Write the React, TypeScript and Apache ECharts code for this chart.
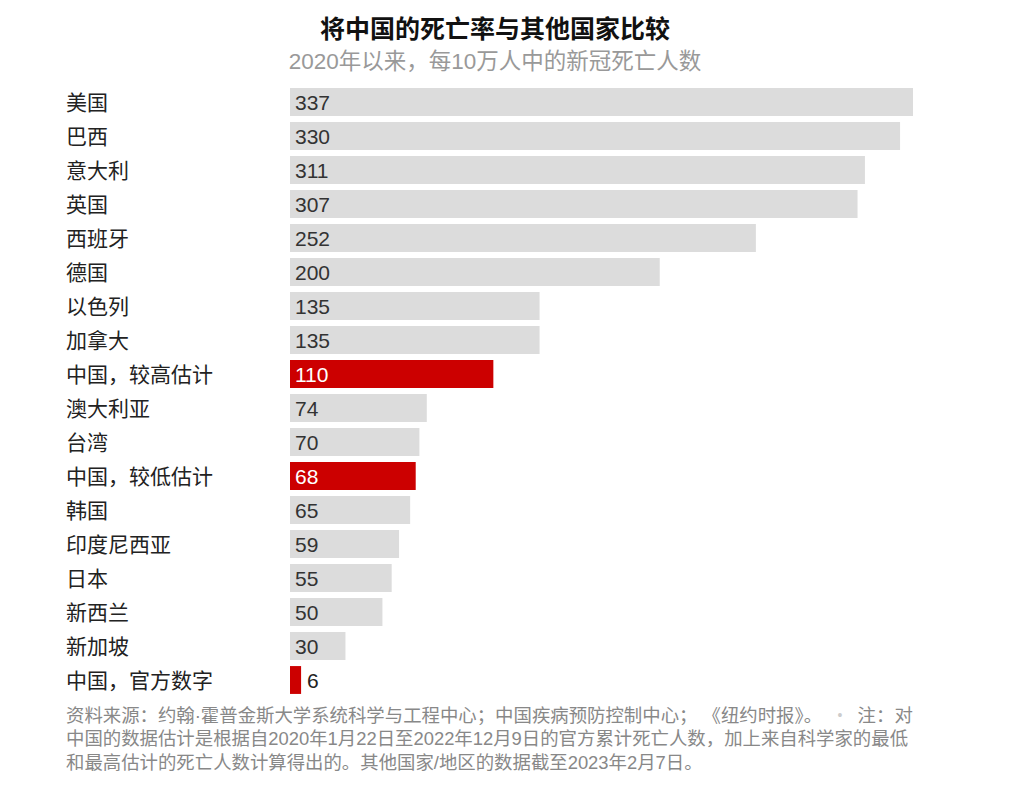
import React, { useEffect, useRef } from "react";
import * as echarts from "echarts";

const categories = [
  "美国", "巴西", "意大利", "英国", "西班牙", "德国", "以色列", "加拿大",
  "中国，较高估计", "澳大利亚", "台湾", "中国，较低估计", "韩国", "印度尼西亚",
  "日本", "新西兰", "新加坡", "中国，官方数字",
];
const values = [337, 330, 311, 307, 252, 200, 135, 135, 110, 74, 70, 68, 65, 59, 55, 50, 30, 6];
const highlighted = ["中国，较高估计", "中国，较低估计", "中国，官方数字"];

const titleText = "将中国的死亡率与其他国家比较";
const subtitleText = "2020年以来，每10万人中的新冠死亡人数";
const footLines = [
  "资料来源：约翰·霍普金斯大学系统科学与工程中心；中国疾病预防控制中心； 《纽约时报》。   {b|•}   注：对",
  "中国的数据估计是根据自2020年1月22日至2022年12月9日的官方累计死亡人数，加上来自科学家的最低",
  "和最高估计的死亡人数计算得出的。其他国家/地区的数据截至2023年2月7日。",
];

const FONT = '"Liberation Sans", Arial, "Noto Sans CJK SC", sans-serif';

export default function App() {
  const ref = useRef<HTMLDivElement>(null);
  useEffect(() => {
    if (!ref.current) return;
    const chart = echarts.init(ref.current, undefined, { renderer: "svg" });
    const data = values.map((v, i) => {
      const hi = highlighted.includes(categories[i]);
      const small = v < 15;
      return {
        value: v,
        itemStyle: { color: hi ? "#cc0000" : "#dcdcdc" },
        label: small
          ? { position: "right", distance: 6, color: "#222" }
          : { position: "insideLeft", distance: 5, color: hi ? "#ffffff" : "#333" },
      };
    });
    chart.setOption({
      animation: false,
      textStyle: { fontFamily: FONT },
      title: [
        {
          text: titleText,
          left: 490,
          top: 11,
          textAlign: "center",
          textStyle: { fontSize: 25, fontWeight: "bold", color: "#111", fontFamily: FONT },
        },
        {
          text: subtitleText,
          left: 490,
          top: 45,
          textAlign: "center",
          textStyle: { fontSize: 22.5, fontWeight: "normal", color: "#999", fontFamily: FONT },
        },
      ],
      grid: { left: 290, right: 111, top: 85, height: 612, containLabel: false },
      xAxis: {
        type: "value",
        min: 0,
        max: 337,
        show: false,
      },
      yAxis: {
        type: "category",
        data: categories,
        inverse: true,
        axisLine: { show: false },
        axisTick: { show: false },
        axisLabel: {
          align: "left",
          margin: 224,
          fontSize: 21,
          color: "#222",
          fontFamily: FONT,
        },
      },
      series: [
        {
          type: "bar",
          data,
          barCategoryGap: "18%",
          label: { show: true, fontSize: 21, fontFamily: FONT },
        },
      ],
      graphic: footLines.map((t, i) => ({
        type: "text",
        left: 66,
        top: 706 + i * 23.5,
        style: {
          text: t,
          fontSize: 18.4,
          fill: "#888",
          fontFamily: FONT,
          rich: { b: { fontSize: 14, fill: "#ccc", color: "#ccc", fontFamily: FONT } },
        },
      })),
    });
    return () => chart.dispose();
  }, []);
  return (
    <div
      ref={ref}
      style={{ position: "fixed", left: 0, top: 0, width: 1024, height: 788, background: "#fff" }}
    />
  );
}
